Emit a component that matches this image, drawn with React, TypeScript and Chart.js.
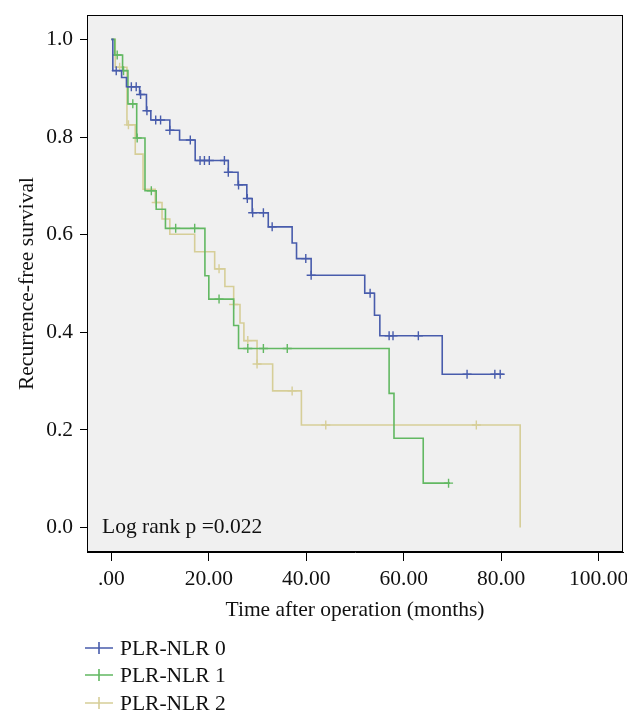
import React, { useEffect, useRef } from 'react';
import { Chart, registerables } from 'chart.js';

Chart.register(...registerables);

// ---------- data ----------
const seriesLabels = ['PLR-NLR 0', 'PLR-NLR 1', 'PLR-NLR 2'];
const seriesColors = ['rgb(72,92,172)', 'rgb(98,184,98)', 'rgb(214,206,152)'];

// Kaplan-Meier step times (months) and survival after each step
const group0Times = [0, 0.3, 2.1, 3.1, 5.8, 7.2, 8.1, 12.0, 14.0, 17.2, 24.0, 26.0, 27.8, 28.9, 32.2, 37.1, 38.0, 41.0, 52.0, 54.0, 55.1, 67.9, 80.5];
const group0Surv = [1, 0.936, 0.922, 0.903, 0.887, 0.854, 0.835, 0.814, 0.794, 0.752, 0.728, 0.702, 0.674, 0.645, 0.616, 0.583, 0.551, 0.517, 0.48, 0.435, 0.393, 0.314, 0.314];
const group0Censored = [1.0, 4.1, 5.1, 6.0, 7.3, 9.1, 10.1, 12.0, 16.2, 18.2, 19.1, 20.1, 23.2, 24.0, 26.1, 27.9, 29.0, 31.2, 33.0, 39.9, 41.0, 53.1, 57.0, 57.8, 63.0, 73.0, 78.7, 79.8];

const group1Times = [0, 0.7, 2.3, 3.4, 5.2, 6.9, 9.2, 11.1, 19.2, 20.0, 25.1, 26.1, 57.0, 58.0, 64.0, 69.5];
const group1Surv = [1, 0.968, 0.936, 0.868, 0.798, 0.69, 0.652, 0.613, 0.516, 0.468, 0.414, 0.367, 0.275, 0.183, 0.091, 0.091];
const group1Censored = [1.2, 2.5, 4.4, 5.3, 8.2, 13.2, 17.1, 22.1, 28.0, 31.2, 36.1, 69.2];

const group2Times = [0, 0.8, 3.2, 4.9, 6.5, 9.0, 10.4, 12.0, 17.1, 21.2, 23.3, 25.1, 26.4, 27.2, 29.9, 33.1, 39.0, 83.9];
const group2Surv = [1, 0.943, 0.825, 0.765, 0.693, 0.666, 0.632, 0.601, 0.565, 0.53, 0.494, 0.457, 0.419, 0.383, 0.335, 0.28, 0.21, 0.0];
const group2Censored = [1.7, 3.5, 9.2, 22.1, 25.1, 28.0, 29.9, 37.1, 44.0, 74.9];

const xTicks = [0, 20, 40, 60, 80, 100];
const yTicks = [0, 0.2, 0.4, 0.6, 0.8, 1.0];
const xTitle = 'Time after operation (months)';
const yTitle = 'Recurrence-free survival';
const noteText = 'Log rank p =0.022';

// ---------- helpers ----------
const FONT = '"Liberation Serif", "Times New Roman", serif';
const FONT_SIZE = 21.5;
const TEXT_COLOR = '#111';

function survAt(times: number[], surv: number[], t: number): number {
  let s = surv[0];
  for (let i = 0; i < times.length; i++) {
    if (times[i] <= t + 1e-9) s = surv[i];
  }
  return s;
}

const groups = [
  { label: seriesLabels[0], color: seriesColors[0], times: group0Times, surv: group0Surv, cens: group0Censored },
  { label: seriesLabels[1], color: seriesColors[1], times: group1Times, surv: group1Surv, cens: group1Censored },
  { label: seriesLabels[2], color: seriesColors[2], times: group2Times, surv: group2Surv, cens: group2Censored },
];

const framePlugin = {
  id: 'kmFrame',
  beforeDraw(chart: any) {
    const { ctx, chartArea: a } = chart;
    ctx.save();
    ctx.fillStyle = '#ffffff';
    ctx.fillRect(0, 0, chart.width, chart.height);
    ctx.fillStyle = '#f0f0f0';
    ctx.fillRect(a.left, a.top, a.right - a.left, a.bottom - a.top);
    ctx.restore();
  },
  afterDraw(chart: any) {
    const { ctx, chartArea: a } = chart;
    ctx.save();
    // frame
    ctx.strokeStyle = '#000';
    ctx.lineWidth = 1;
    ctx.strokeRect(Math.round(a.left) + 0.5, Math.round(a.top) + 0.5, Math.round(a.right - a.left) - 1, Math.round(a.bottom - a.top) - 1);

    // the source figure is cropped just right of the plot frame
    ctx.fillStyle = '#ffffff';
    ctx.fillRect(627, 0, chart.width - 627, chart.height);

    // log rank note
    ctx.fillStyle = TEXT_COLOR;
    ctx.font = `${FONT_SIZE}px ${FONT}`;
    ctx.textBaseline = 'alphabetic';
    ctx.textAlign = 'left';
    ctx.fillText(noteText, a.left + 15, a.bottom - 19);

    // legend
    const legendX0 = 85;
    const legendX1 = 113;
    const legendY = [648, 675, 703];
    groups.forEach((g, i) => {
      const y = legendY[i];
      ctx.strokeStyle = g.color;
      ctx.lineWidth = 1.6;
      ctx.beginPath();
      ctx.moveTo(legendX0, y);
      ctx.lineTo(legendX1, y);
      ctx.moveTo((legendX0 + legendX1) / 2, y - 6);
      ctx.lineTo((legendX0 + legendX1) / 2, y + 6);
      ctx.stroke();
      ctx.fillStyle = TEXT_COLOR;
      ctx.fillText(g.label, 120, y + 7);
    });
    ctx.restore();
  },
};

export default function App() {
  const canvasRef = useRef<HTMLCanvasElement | null>(null);

  useEffect(() => {
    const canvas = canvasRef.current;
    if (!canvas) return;

    const datasets: any[] = [];
    groups.forEach((g) => {
      datasets.push({
        type: 'line',
        label: g.label,
        data: g.times.map((t, i) => ({ x: t, y: g.surv[i] })),
        borderColor: g.color,
        backgroundColor: g.color,
        borderWidth: 1.6,
        stepped: true,
        pointRadius: 0,
        fill: false,
      });
      datasets.push({
        type: 'scatter',
        label: g.label + ' censored',
        data: g.cens.map((t) => ({ x: t, y: survAt(g.times, g.surv, t) })),
        borderColor: g.color,
        backgroundColor: g.color,
        pointStyle: 'cross',
        pointRadius: 4.5,
        pointBorderWidth: 1.4,
        borderWidth: 1.4,
        showLine: false,
      });
    });

    const font = { family: FONT, size: FONT_SIZE };

    const chart = new Chart(canvas, {
      type: 'line',
      data: { datasets },
      plugins: [framePlugin as any],
      options: {
        responsive: false,
        animation: false,
        events: [],
        layout: { padding: { left: 0, top: 15, right: 17, bottom: 104 } },
        plugins: {
          legend: { display: false },
          tooltip: { enabled: false },
        },
        scales: {
          x: {
            type: 'linear',
            min: -5,
            max: 105,
            afterBuildTicks: (scale: any) => {
              scale.ticks = xTicks.map((v) => ({ value: v }));
            },
            afterFit: (scale: any) => {
              scale.height = 71;
              scale.paddingLeft = 0;
              scale.paddingRight = 0;
            },
            ticks: {
              font,
              color: TEXT_COLOR,
              padding: 5,
              maxRotation: 0,
              autoSkip: false,
              callback: (v: any) => (Number(v) === 0 ? '.00' : Number(v).toFixed(2)),
            },
            grid: { drawOnChartArea: false, drawTicks: true, tickLength: 9, color: '#000', tickColor: '#000', tickWidth: 1 },
            border: { display: true, color: '#000', width: 1 },
            title: { display: true, text: xTitle, font, color: TEXT_COLOR, padding: { top: 0, bottom: 0 } },
          },
          y: {
            type: 'linear',
            min: -0.05,
            max: 1.05,
            afterBuildTicks: (scale: any) => {
              scale.ticks = yTicks.map((v) => ({ value: v }));
            },
            afterFit: (scale: any) => {
              scale.width = 87;
              scale.paddingTop = 0;
              scale.paddingBottom = 0;
            },
            ticks: {
              font,
              color: TEXT_COLOR,
              padding: 7,
              autoSkip: false,
              callback: (v: any) => Number(v).toFixed(1),
            },
            grid: { drawOnChartArea: false, drawTicks: true, tickLength: 7, color: '#000', tickColor: '#000', tickWidth: 1 },
            border: { display: true, color: '#000', width: 1 },
            title: { display: true, text: yTitle, font, color: TEXT_COLOR, padding: { top: 14, bottom: 0 } },
          },
        },
      } as any,
    });

    return () => {
      chart.destroy();
    };
  }, []);

  return (
    <div style={{ position: 'absolute', left: 0, top: 0, width: 640, height: 727, background: '#fff' }}>
      <canvas ref={canvasRef} width={640} height={727} style={{ display: 'block', width: 640, height: 727 }} />
    </div>
  );
}
